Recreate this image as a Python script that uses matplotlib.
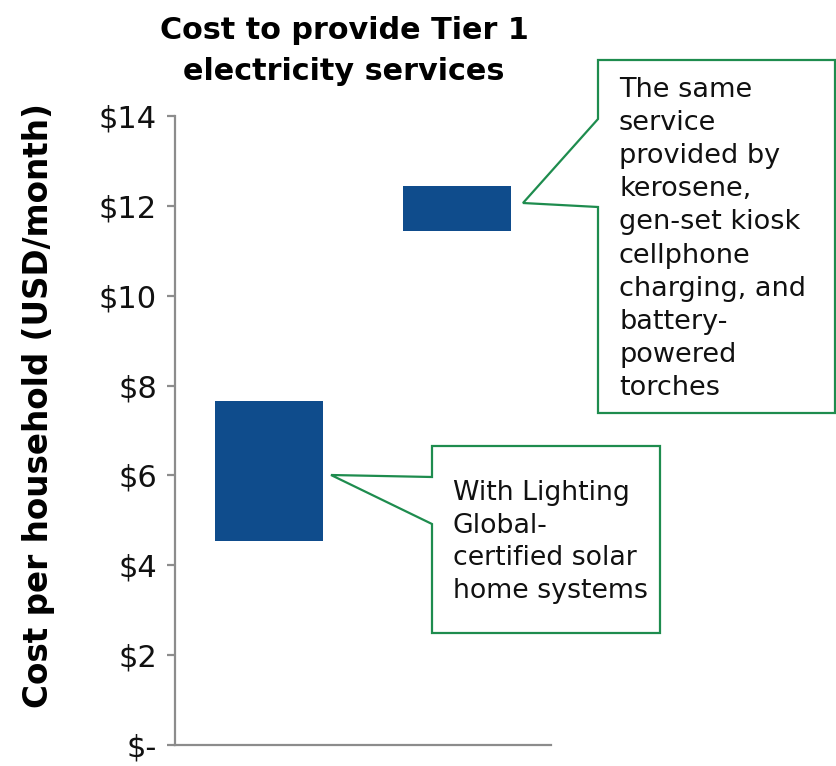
import matplotlib
matplotlib.use("Agg")
import matplotlib.pyplot as plt
from matplotlib.patches import Polygon

# ---- data ----
categories = ["Solar home systems", "Kerosene / gen-set / torches"]
low_values = [4.55, 11.45]
high_values = [7.65, 12.45]
yticks = [0, 2, 4, 6, 8, 10, 12, 14]
ytick_labels = ["$-", "$2", "$4", "$6", "$8", "$10", "$12", "$14"]
title = "Cost to provide Tier 1\nelectricity services"
ylabel = "Cost per household (USD/month)"
note1 = "With Lighting\nGlobal-\ncertified solar\nhome systems"
note2 = "The same\nservice\nprovided by\nkerosene,\ngen-set kiosk\ncellphone\ncharging, and\nbattery-\npowered\ntorches"

plt.rcParams['font.family'] = ['DejaVu Sans']

W, H = 836, 766
fig = plt.figure(figsize=(W / 100, H / 100), dpi=100)
ax = fig.add_axes([175 / W, 1 - 745 / H, (551 - 175) / W, (745 - 116) / H])

bar_color = "#0F4C8C"
green = "#1E8C4E"
gray = "#8C8C8C"

x = list(range(len(categories)))
heights = [h - l for h, l in zip(high_values, low_values)]
ax.bar(x, heights, bottom=low_values, width=0.57, color=bar_color)

ax.set_xlim(-0.5, 1.5)
ax.set_ylim(0, 14)
ax.set_yticks(yticks)
ax.set_yticklabels(ytick_labels, fontsize=22, color="#111111")
ax.set_xticks([])
for s in ["top", "right"]:
    ax.spines[s].set_visible(False)
for s in ["left", "bottom"]:
    ax.spines[s].set_color(gray)
    ax.spines[s].set_linewidth(1.6)
ax.tick_params(axis="y", length=6, width=1.6, color=gray, pad=7)

ax.set_ylabel(ylabel, fontsize=23.5, fontweight="bold")
ax.yaxis.set_label_coords(-0.318, 0.539)

fig.text(344 / W, 1 - 51 / H, title, ha="center", va="center",
         fontsize=21.8, fontweight="bold", linespacing=1.55)

def px(xp, yp):
    return (xp / W, 1 - yp / H)

def callout(box, tip, base_y):
    x0, y0, x1, y1 = box
    pts = [px(x0, y0), px(x1, y0), px(x1, y1), px(x0, y1),
           px(x0, base_y[1]), px(*tip), px(x0, base_y[0])]
    poly = Polygon(pts, closed=True, facecolor="white", edgecolor=green,
                   linewidth=1.6, transform=fig.transFigure, clip_on=False)
    fig.add_artist(poly)

callout((432, 446, 660, 633), (331, 475), (477, 524))
callout((598, 60, 835, 413), (523, 203), (119, 207))

fig.text(453 / W, 1 - 542 / H, note1, ha="left", va="center",
         fontsize=19.3, linespacing=1.34, color="#111111")
fig.text(619 / W, 1 - 239 / H, note2, ha="left", va="center",
         fontsize=19.5, linespacing=1.36, color="#111111")

fig.savefig("out.png", dpi=100)
